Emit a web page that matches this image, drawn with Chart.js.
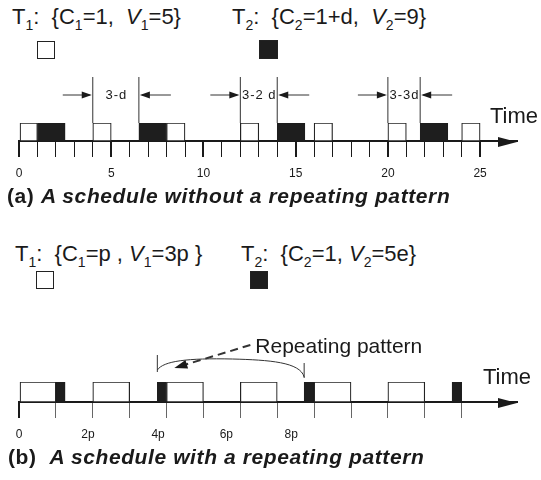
<!DOCTYPE html>
<html>
<head>
<title>Schedules with and without a repeating pattern</title>
<script src="https://cdn.jsdelivr.net/npm/chart.js"></script>
<style>
  body { margin:0; background:#fff; }
  #wrap { position:relative; width:541px; height:480px; overflow:hidden; font-family:"Liberation Sans", Arial, sans-serif; color:#1a1a1a; }
  canvas { position:absolute; left:0; }
  .t { position:absolute; font-size:22px; line-height:1; white-space:pre; }
  .s { font-size:14px; vertical-align:-6px; }
  .cap { position:absolute; font-size:21px; line-height:1; font-weight:bold; white-space:pre; letter-spacing:0.6px; }
  .box { position:absolute; box-sizing:border-box; width:18px; height:18px; border:1px solid #222; background:#fff; }
  .box.k { background:#1e1e1e; }
</style>
</head>
<body>
<div id="wrap">
  <div class="t" style="left:12px;top:6px">T<span class="s">1</span>:  {C<span class="s">1</span>=1,  <i>V</i><span class="s">1</span>=5}</div>
  <div class="t" style="left:232px;top:6px">T<span class="s">2</span>:  {C<span class="s">2</span>=1+d,  <i>V</i><span class="s">2</span>=9}</div>
  <div class="box" style="left:37px;top:41px"></div>
  <div class="box k" style="left:259px;top:40px;width:19px;height:19px"></div>
  <canvas id="chartA" width="541" height="130" style="top:60px"></canvas>
  <div class="cap" style="left:7px;top:185px">(a) <i>A schedule without a repeating pattern</i></div>

  <div class="t" style="left:15px;top:243px">T<span class="s">1</span>:  {C<span class="s">1</span>=p , <i>V</i><span class="s">1</span>=3p }</div>
  <div class="t" style="left:241px;top:243px">T<span class="s">2</span>:  {C<span class="s">2</span>=1, <i>V</i><span class="s">2</span>=5e}</div>
  <div class="box" style="left:36px;top:271px"></div>
  <div class="box k" style="left:250px;top:271px"></div>
  <canvas id="chartB" width="541" height="160" style="top:290px"></canvas>
  <div class="cap" style="left:8px;top:446px">(b)  <i>A schedule with a repeating pattern</i></div>
</div>

<script>
// (a) time units, T1 = white, T2 = black
const aWhite = [[0,1],[4,5],[8,9],[12,13],[16,17],[20,21],[24,25]];
const aBlack = [[1,2.5],[6.5,8],[14,15.5],[21.75,23.25]];
const aGaps = [[4,6.5,'3-d'],[12,14,'3-2 d'],[20,21.75,'3-3d']];
const aTicks = [];
for (let i = 0; i <= 25; i++) aTicks.push(i);

// (b) time in units of p
const bWhite = [[0,1],[2,3],[4,5],[6,7],[8,9],[10,11]];
const bBlack = [[1,1.25],[3.75,4],[7.73,8],[11.74,12]];
const bTicks = [0,1,2,3,4,5,6,7,8,9,10,11,12];
const bTickLabels = ['0','2p','4p','6p','8p'];
const bLabelAt = [0,1.87,3.77,5.62,7.38];

const FONT = '"Liberation Sans", Arial, sans-serif';
const INK = '#1a1a1a';

function bars(rows) {
    return rows.map(r => ({x: r, y: 0}));
}

function arrowHead(ctx, x, y, dir, len, half) {
    ctx.beginPath();
    ctx.moveTo(x, y);
    ctx.lineTo(x - dir * len, y - half);
    ctx.lineTo(x - dir * len, y + half);
    ctx.closePath();
    ctx.fill();
}

function axisArrow(chart) {
    const {ctx, chartArea} = chart;
    ctx.fillStyle = INK;
    arrowHead(ctx, chartArea.right, chartArea.bottom + 1, 1, 19, 5);
}

function baseOptions(max, thickness, pad, tickColor, tickWidth, tickValues, labelFn) {
    return {
        indexAxis: 'y',
        responsive: false,
        animation: false,
        events: [],
        layout: {padding: pad},
        datasets: {bar: {barThickness: thickness, grouped: false, borderSkipped: false}},
        plugins: {legend: {display: false}, tooltip: {enabled: false}},
        scales: {
            y: {type: 'linear', min: -1, max: 1, display: false},
            x: {
                type: 'linear', min: 0, max: max,
                afterFit: function(s) { s.height = 40; },
                afterBuildTicks: function(s) { s.ticks = tickValues.map(v => ({value: v})); },
                grid: {drawOnChartArea: false, tickLength: 16, color: tickColor, lineWidth: tickWidth},
                border: {color: INK, width: 2},
                ticks: {autoSkip: false, maxRotation: 0, padding: 9, color: INK,
                        font: {family: FONT, size: 12}, callback: labelFn}
            }
        }
    };
}

// ---------- chart (a)
const gapsPlugin = {
    id: 'gaps',
    afterDraw(chart) {
        const {ctx, chartArea: ca, scales: {x}} = chart;
        ctx.save();
        axisArrow(chart);
        ctx.fillStyle = INK;
        ctx.font = '22px ' + FONT;
        ctx.fillText('Time', ca.right - 27, ca.top);
        ctx.strokeStyle = '#333';
        ctx.lineWidth = 1;
        aGaps.forEach(([s, e, txt]) => {
            const x1 = x.getPixelForValue(s), x2 = x.getPixelForValue(e);
            const ay = ca.top - 28;
            ctx.beginPath();
            ctx.moveTo(x1, ca.top - 46); ctx.lineTo(x1, ca.top);
            ctx.moveTo(x2, ca.top - 46); ctx.lineTo(x2, ca.top);
            ctx.moveTo(x1 - 30, ay); ctx.lineTo(x1 - 3, ay);
            ctx.moveTo(x2 + 3, ay); ctx.lineTo(x2 + 32, ay);
            ctx.stroke();
            ctx.fillStyle = INK;
            arrowHead(ctx, x1 - 1, ay, 1, 10, 3.5);
            arrowHead(ctx, x2 + 1, ay, -1, 10, 3.5);
            ctx.font = '13px ' + FONT;
            ctx.letterSpacing = '1px';
            ctx.textAlign = 'center';
            ctx.textBaseline = 'middle';
            ctx.fillText(txt, (x1 + x2) / 2 + 0.5, ay);
            ctx.letterSpacing = '0px';
        });
        ctx.restore();
    }
};

new Chart(document.getElementById('chartA'), {
    type: 'bar',
    data: {datasets: [
        {label: 'T1', data: bars(aWhite), backgroundColor: '#fff', borderColor: '#222', borderWidth: 1.2},
        {label: 'T2', data: bars(aBlack), backgroundColor: '#1e1e1e', borderColor: '#1e1e1e', borderWidth: 1}
    ]},
    options: baseOptions(27, 18, {left: 19, right: 24, top: 63, bottom: 9},
        INK,
        c => (c.tick && c.tick.value % 5 === 0) ? 2 : 1,
        aTicks,
        v => (v % 5 === 0 ? String(v) : '')),
    plugins: [gapsPlugin]
});

// ---------- chart (b)
const repeatPlugin = {
    id: 'repeat',
    afterDraw(chart) {
        const {ctx, chartArea: ca, scales: {x}} = chart;
        const xL = x.getPixelForValue(bBlack[1][0]);
        const xR = x.getPixelForValue(bBlack[2][0]);
        const yT = ca.top;
        ctx.save();
        axisArrow(chart);
        ctx.fillStyle = INK;
        ctx.font = '22px ' + FONT;
        ctx.fillText('Time', ca.right - 34, yT + 2);

        ctx.strokeStyle = '#333';
        ctx.lineWidth = 1;
        ctx.beginPath();
        ctx.moveTo(xL, yT - 27); ctx.lineTo(xL, yT - 10);
        ctx.moveTo(xR, yT - 19); ctx.lineTo(xR, yT - 4);
        ctx.moveTo(xL, yT - 12);
        ctx.bezierCurveTo(xL + 6, yT - 21, xL + 30, yT - 24, xL + 75, yT - 23);
        ctx.bezierCurveTo(xR - 35, yT - 22, xR - 4, yT - 20, xR, yT - 5);
        ctx.stroke();

        // dashed pointer
        const tx = xL + 17, ty = yT - 14;
        const sx = xL + 93, sy = yT - 37;
        const ang = Math.atan2(ty - sy, tx - sx);
        ctx.lineWidth = 2;
        ctx.setLineDash([8, 5]);
        ctx.beginPath();
        ctx.moveTo(sx, sy);
        ctx.lineTo(tx - 10 * Math.cos(ang), ty - 10 * Math.sin(ang));
        ctx.stroke();
        ctx.setLineDash([]);
        ctx.translate(tx, ty);
        ctx.rotate(ang);
        arrowHead(ctx, 0, 0, 1, 13, 4.5);
        ctx.setTransform(1, 0, 0, 1, 0, 0);

        ctx.font = '21px ' + FONT;
        ctx.fillText('Repeating pattern', xL + 98, yT - 29);
        ctx.restore();
    }
};

new Chart(document.getElementById('chartB'), {
    type: 'bar',
    data: {datasets: [
        {label: 'T1', data: bars(bWhite), backgroundColor: '#fff', borderColor: '#222', borderWidth: 1.2},
        {label: 'T2', data: bars(bBlack), backgroundColor: '#1e1e1e', borderColor: '#1e1e1e', borderWidth: 1}
    ]},
    options: baseOptions(13.5, 20, {left: 19, right: 24, top: 92, bottom: 8},
        c => (c.tick && c.tick.value === 0) ? INK : (bTicks.indexOf(c.tick && c.tick.value) >= 0 ? '#666' : 'rgba(0,0,0,0)'),
        c => (c.tick && c.tick.value === 0) ? 2 : 1,
        bTicks.concat(bLabelAt.filter(v => bTicks.indexOf(v) < 0)).sort((a, b) => a - b),
        v => { const i = bLabelAt.indexOf(v); return i >= 0 ? bTickLabels[i] : ''; }),
    plugins: [repeatPlugin]
});
</script>
</body>
</html>
